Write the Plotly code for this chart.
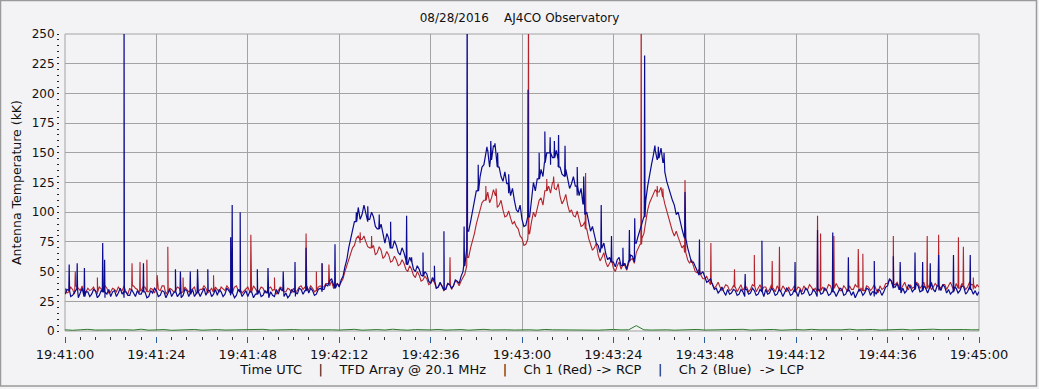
import numpy as np
import pandas as pd
import plotly.graph_objects as go

# ---------------- data ----------------
START = "2016-08-28 19:41:00"
seconds = list(range(0, 241))          # whole-second sample times (s after 19:41:00)
half_seconds = [s + 0.5 for s in range(0, 240)]   # half-second sample times

red_base = [
    36, 33, 35, 38, 34, 32, 36, 35, 33, 37,
    34, 36, 33, 35, 37, 34, 33, 36, 38, 35,
    34, 37, 33, 35, 36, 34, 38, 33, 35, 34,
    36, 33, 35, 34, 37, 33, 35, 36, 34, 33,
    35, 37, 34, 36, 33, 38, 35, 34, 37, 33,
    35, 34, 36, 33, 37, 35, 34, 36, 33, 35,
    36, 34, 38, 37, 35, 36, 34, 38, 37, 40,
    42, 37, 38, 44, 55, 66, 72, 80, 77, 75,
    70, 72, 66, 68, 63, 64, 59, 60, 56, 57,
    50, 52, 45, 47, 43, 44, 40, 41, 37, 38,
    36, 39, 38, 41, 42, 48, 62, 75, 90, 102,
    110, 117, 112, 114, 106, 102, 97, 95, 92, 86,
    78, 73, 82, 100, 104, 112, 118, 122, 125, 119,
    113, 110, 106, 102, 96, 94, 89, 86, 73, 70,
    64, 62, 58, 57, 53, 55, 52, 55, 57, 61,
    66, 73, 82, 102, 112, 119, 117, 113, 101, 90,
    80, 79, 70, 66, 57, 54, 49, 47, 44, 42,
    40, 38, 37, 36, 38, 35, 37, 36, 34, 37,
    35, 38, 36, 34, 37, 35, 36, 38, 34, 36,
    37, 35, 34, 36, 38, 35, 37, 36, 34, 37,
    35, 38, 36, 37, 34, 36, 38, 35, 37, 36,
    34, 37, 36, 35, 38, 36, 40, 42, 39, 37,
    38, 36, 39, 37, 40, 38, 36, 39, 37, 38,
    36, 39, 38, 37, 40, 36, 38, 37, 39, 36,
    37,
]
red_half = [
    32, 37, 31, 36, 38, 33, 34, 37, 31, 35,
    38, 32, 36, 33, 35, 38, 31, 34, 36, 32,
    37, 33, 36, 32, 35, 38, 31, 36, 33, 37,
    32, 37, 33, 36, 31, 35, 38, 32, 36, 37,
    33, 35, 38, 32, 37, 34, 32, 36, 33, 38,
    33, 37, 32, 36, 34, 31, 37, 33, 36, 32,
    33, 37, 35, 34, 38, 33, 37, 35, 40, 38,
    36, 40, 41, 50, 60, 70, 78, 74, 80, 71,
    76, 64, 71, 61, 67, 58, 63, 55, 60, 52,
    55, 47, 50, 42, 46, 39, 43, 36, 40, 34,
    40, 35, 42, 38, 45, 55, 70, 82, 96, 108,
    114, 108, 119, 104, 110, 96, 101, 90, 88, 80,
    72, 77, 92, 96, 110, 106, 124, 116, 120, 124,
    107, 115, 100, 97, 101, 88, 92, 78, 68, 74,
    59, 66, 54, 60, 50, 58, 56, 51, 60, 57,
    70, 78, 94, 108, 116, 113, 121, 107, 95, 84,
    84, 74, 72, 60, 60, 50, 52, 44, 46, 39,
    36, 41, 34, 39, 34, 38, 33, 39, 37, 33,
    39, 33, 39, 37, 33, 39, 33, 35, 38, 33,
    34, 38, 37, 33, 35, 39, 34, 33, 38, 34,
    39, 33, 40, 34, 38, 33, 35, 39, 33, 38,
    38, 34, 39, 32, 35, 40, 43, 37, 41, 35,
    41, 35, 36, 41, 36, 41, 39, 35, 40, 35,
    39, 35, 41, 34, 37, 40, 35, 41, 35, 39,
]

blue_base = [
    31, 34, 30, 35, 32, 29, 33, 31, 34, 30,
    33, 31, 29, 34, 32, 31, 33, 30, 32, 34,
    31, 33, 29, 32, 34, 30, 33, 31, 29, 33,
    32, 30, 34, 31, 29, 33, 32, 30, 34, 31,
    30, 33, 31, 34, 32, 30, 33, 31, 29, 33,
    31, 34, 30, 32, 33, 29, 31, 34, 32, 30,
    33, 31, 35, 34, 32, 34, 31, 36, 35, 38,
    44, 36, 37, 46, 60, 78, 92, 104, 98, 100,
    94, 96, 86, 90, 74, 78, 70, 72, 64, 66,
    56, 58, 50, 52, 46, 48, 40, 42, 37, 38,
    35, 39, 38, 42, 46, 55, 84, 100, 118, 130,
    140, 152, 144, 155, 138, 126, 124, 114, 110, 100,
    94, 89, 96, 125, 128, 136, 142, 150, 146, 152,
    138, 130, 128, 124, 122, 114, 107, 100, 84, 80,
    72, 70, 65, 62, 58, 60, 55, 57, 59, 63,
    74, 86, 96, 122, 140, 152, 146, 142, 126, 116,
    106, 100, 86, 78, 63, 58, 51, 48, 45, 42,
    39, 36, 34, 33, 35, 32, 34, 31, 33, 35,
    32, 34, 31, 33, 35, 32, 34, 31, 33, 32,
    34, 31, 33, 35, 32, 34, 31, 33, 35, 32,
    34, 31, 33, 32, 35, 31, 34, 33, 31, 34,
    32, 35, 33, 31, 34, 33, 38, 42, 37, 35,
    36, 34, 37, 35, 38, 34, 36, 37, 35, 38,
    34, 37, 35, 33, 36, 34, 37, 33, 35, 34,
    33,
]
blue_half = [
    35, 29, 33, 28, 36, 33, 29, 35, 28, 34,
    28, 35, 33, 29, 36, 28, 30, 35, 29, 31,
    35, 28, 34, 36, 29, 34, 28, 35, 32, 29,
    28, 35, 29, 35, 33, 29, 36, 34, 29, 35,
    35, 29, 36, 30, 28, 35, 29, 34, 33, 28,
    36, 29, 34, 28, 30, 35, 36, 29, 28, 35,
    29, 36, 31, 38, 36, 30, 35, 33, 39, 42,
    38, 40, 43, 54, 70, 86, 100, 94, 106, 92,
    100, 88, 94, 80, 82, 70, 76, 66, 70, 60,
    62, 52, 55, 47, 50, 42, 45, 36, 41, 34,
    40, 36, 43, 40, 50, 70, 92, 110, 124, 138,
    148, 138, 156, 142, 130, 134, 116, 120, 102, 106,
    88, 95, 112, 118, 135, 130, 150, 140, 155, 144,
    132, 136, 120, 130, 114, 120, 98, 92, 88, 74,
    66, 74, 60, 66, 54, 62, 60, 52, 64, 58,
    80, 92, 110, 132, 148, 144, 154, 134, 120, 110,
    98, 92, 80, 70, 58, 54, 47, 50, 41, 44,
    35, 32, 37, 30, 31, 35, 30, 35, 29, 31,
    36, 30, 35, 29, 31, 36, 30, 35, 29, 36,
    30, 35, 29, 31, 36, 30, 35, 29, 31, 36,
    30, 35, 29, 36, 30, 35, 30, 28, 35, 30,
    36, 30, 29, 35, 30, 37, 44, 36, 40, 32,
    32, 39, 33, 40, 33, 38, 32, 41, 33, 34,
    39, 32, 31, 37, 32, 38, 31, 37, 31, 30,
]

# narrow impulsive spikes: time (s after 19:41:00) and peak value (kK)
red_spike_t = [2.7, 8.5, 17.6, 19.7, 21.5, 24.2, 27.0, 31.0, 39.0, 48.8,
               55.0, 63.3, 66.0, 67.5, 69.3, 77.5, 80.5, 101.1, 105.6, 110.5,
               113.2, 121.7, 126.5, 128.3, 136.7, 151.3, 155.5, 157.0, 162.8, 169.6,
               175.8, 181.0, 185.7, 187.6, 197.6, 198.4, 201.9, 208.3, 209.5, 217.5,
               226.4, 229.4, 234.6, 235.9, 238.5]
red_spike_v = [50, 45, 57, 58, 60, 47, 71, 45, 47, 81,
               45, 82, 50, 57, 56, 83, 80, 62, 125, 122,
               120, 300, 128, 130, 133, 300, 122, 120, 127, 74,
               52, 64, 59, 71, 97, 82, 80, 69, 65, 80,
               80, 81, 79, 71, 45]

blue_spike_t = [1.1, 3.2, 5.1, 9.9, 10.4, 15.5, 20.6, 29.0, 30.3, 32.9,
                34.8, 37.5, 43.5, 43.9, 46.0, 50.5, 53.3, 57.3, 60.4, 63.3,
                67.5, 70.9, 76.5, 79.5, 82.5, 85.5, 89.7, 91.0, 94.0, 97.0,
                99.5, 104.8, 105.6, 108.5, 110.8, 111.8, 112.9, 113.6, 116.5, 121.6,
                124.5, 126.0, 127.4, 128.5, 129.6, 131.3, 134.5, 136.2, 140.8, 143.5,
                146.5, 148.2, 149.6, 152.2, 154.9, 155.8, 157.3, 162.8, 166.6, 178.6,
                183.0, 191.7, 197.6, 201.6, 205.7, 212.5, 217.5, 219.3, 223.2, 225.2,
                227.2, 229.4, 233.3, 237.7]
blue_spike_v = [56, 57, 53, 74, 60, 300, 57, 52, 50, 50,
                52, 52, 79, 106, 100, 52, 53, 50, 58, 70,
                57, 73, 100, 105, 98, 92, 97, 62, 66, 55,
                84, 88, 300, 140, 155, 160, 158, 150, 132, 203,
                150, 168, 163, 160, 165, 156, 138, 130, 106, 80,
                70, 85, 95, 232, 156, 155, 150, 117, 77, 48,
                76, 58, 85, 83, 62, 59, 63, 58, 66, 58,
                57, 64, 64, 64]

green_t = list(range(0, 241, 2))
green_v = [
    1, 0.6, 1, 1.4, 0.8, 1, 0.6, 1.2, 1, 0.8,
    1.5, 0.7, 1, 1.2, 0.6, 1, 0.9, 1.3, 0.7, 1,
    1.2, 0.8, 1, 0.6, 1.1, 1, 1.4, 0.8, 1, 0.7,
    1.2, 0.9, 1, 0.6, 1.3, 1, 0.8, 1.1, 1.4, 0.7,
    1, 1.2, 0.8, 1.5, 1, 0.7, 1.2, 1, 0.9, 1.3,
    0.8, 1, 1.2, 0.7, 1, 1.4, 0.9, 1.1, 1, 0.8,
    1.2, 1, 0.7, 1.3, 1, 0.9, 1.2, 0.8, 1, 1.1,
    0.7, 1, 1.3, 0.9, 1, 4.5, 1, 0.8, 1.2, 1,
    0.7, 1.1, 1, 1.3, 0.8, 1, 1.2, 0.9, 1, 1.4,
    0.8, 1, 1.1, 1.3, 0.7, 1, 1.2, 0.9, 1.4, 1,
    0.8, 1.2, 1, 1.5, 0.9, 1.1, 1.3, 0.8, 1.2, 1,
    1.4, 0.9, 1.2, 1, 1.5, 1.1, 1.3, 0.9, 1.2, 1,
    1,
]

TITLE = "08/28/2016\u00a0\u00a0\u00a0\u00a0AJ4CO Observatory"
Y_TITLE = "Antenna Temperature (kK)"
NB = "\u00a0"
X_TITLE = ("Time UTC" + NB * 4 + "|" + NB * 4 + "TFD Array @ 20.1 MHz" + NB * 4 + "|"
           + NB * 4 + "Ch 1 (Red) -> RCP" + NB * 4 + "|" + NB * 4 + "Ch 2 (Blue)" + NB * 2 + "-> LCP")


# ---------------- build series ----------------
def with_spikes(base, half, st, sv):
    ts = list(seconds) + list(half_seconds)
    vs = list(base) + list(half)
    for t, v in zip(st, sv):
        b = base[int(round(t))]
        ts += [t - 0.1, t, t + 0.1]
        vs += [b, v, b]
    order = np.argsort(np.array(ts, dtype=float), kind="stable")
    ts = np.array(ts, dtype=float)[order]
    vs = np.array(vs, dtype=float)[order]
    return ts, vs


def to_time(sec):
    return pd.Timestamp(START) + pd.to_timedelta(np.asarray(sec, dtype=float), unit="s")


rt, rv = with_spikes(red_base, red_half, red_spike_t, red_spike_v)
bt, bv = with_spikes(blue_base, blue_half, blue_spike_t, blue_spike_v)

RED = "#b3232b"
BLUE = "#0b0b8f"
GREEN = "#2a7a2a"
BG = "#f3f3f6"
GRID = "#a3a3a3"
FONT = "DejaVu Sans"

fig = go.Figure()
fig.add_trace(go.Scatter(x=to_time(rt), y=rv, mode="lines",
                         line=dict(color=RED, width=1.1), name="Ch 1 (RCP)"))
fig.add_trace(go.Scatter(x=to_time(bt), y=bv, mode="lines",
                         line=dict(color=BLUE, width=1.2), name="Ch 2 (LCP)"))
fig.add_trace(go.Scatter(x=to_time(green_t), y=green_v, mode="lines",
                         line=dict(color=GREEN, width=1), name="diff"))

t0 = pd.Timestamp(START)
t1 = t0 + pd.Timedelta(seconds=240)

W, H = 1039, 389
ml, mr, mt, mb = 59, 60, 34, 53

fig.update_layout(
    width=W, height=H,
    margin=dict(l=ml, r=mr, t=mt, b=mb, pad=0),
    paper_bgcolor=BG, plot_bgcolor=BG,
    showlegend=False,
    font=dict(family=FONT, size=12, color="#111111"),
    title=dict(text=TITLE, x=0.5, xref="container", xanchor="center",
               y=1 - 18 / H, yref="container", yanchor="middle",
               font=dict(family=FONT, size=12, color="#111111")),
    xaxis=dict(
        type="date", range=[t0, t1],
        domain=[6 / 920, 1],
        anchor="free", position=0,
        tick0=t0, dtick=24000, tickformat="%H:%M:%S",
        ticks="outside", ticklen=6, tickwidth=1, tickcolor="#2b5c9c",
        tickfont=dict(family=FONT, size=13, color="#111111"),
        showgrid=True, gridcolor=GRID, gridwidth=1,
        showline=False, zeroline=False,
        minor=dict(dtick=4000, ticks="outside", ticklen=3, tickcolor="#333333",
                   tickwidth=1, showgrid=False),
        title=dict(text=X_TITLE, standoff=4,
                   font=dict(family=FONT, size=13, color="#111111")),
        automargin=False,
    ),
    yaxis=dict(
        range=[0, 250],
        domain=[5 / 302, 1],
        anchor="free", position=0,
        dtick=25, tick0=0,
        ticks="outside", ticklen=2, tickwidth=1, tickcolor="#222222",
        tickfont=dict(family=FONT, size=12, color="#111111"),
        showgrid=True, gridcolor=GRID, gridwidth=1,
        showline=False, zeroline=False,
        minor=dict(dtick=5, ticks="outside", ticklen=2, tickcolor="#222222",
                   tickwidth=1, showgrid=False),
        title=dict(text=Y_TITLE, standoff=6,
                   font=dict(family=FONT, size=12.5, color="#111111")),
        automargin=False,
    ),
    shapes=[
        dict(type="rect", xref="x domain", yref="y domain", x0=0, x1=1, y0=0, y1=1,
             line=dict(color=GRID, width=1), fillcolor="rgba(0,0,0,0)", layer="below"),
        dict(type="rect", xref="paper", yref="paper",
             x0=(0.5 - ml) / 920, x1=(1036.5 - ml) / 920,
             y0=(336 - 386) / 302, y1=(336 - 0.5) / 302,
             line=dict(color="#9a9a9a", width=1.5), fillcolor="rgba(0,0,0,0)", layer="below"),
    ],
)

fig.write_html(
    "out.html",
    config={"displayModeBar": False},
    post_script="document.body.style.margin='0';document.body.style.overflow='hidden';",
)
